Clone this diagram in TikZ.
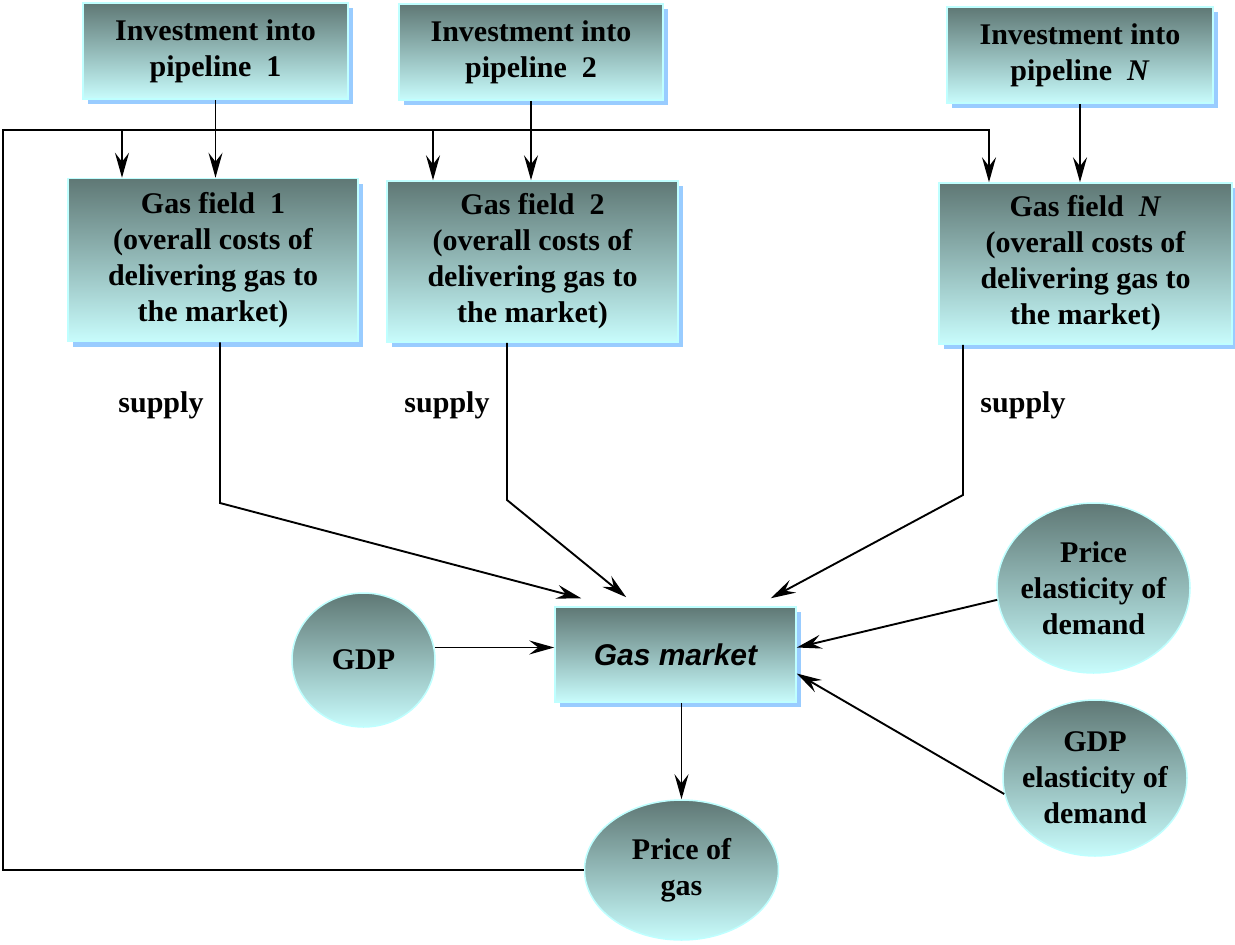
\documentclass[tikz,border=0pt]{standalone}
\usepackage{fontspec}
\setmainfont{Liberation Serif}
\setsansfont{Liberation Sans}
\usetikzlibrary{shapes.geometric,shadows,arrows.meta}
\definecolor{slate}{HTML}{5F7875}
\definecolor{pale}{HTML}{C8FCFC}
\definecolor{rim}{HTML}{BFFFFF}
\definecolor{shadowblue}{HTML}{99CCFF}

\begin{document}
\begin{tikzpicture}[x=1pt,y=-1pt,
    every node/.style={font=\fontsize{30}{36}\selectfont\bfseries, align=center},
    blk/.style={rectangle, draw=rim, line width=1.5pt, top color=slate, bottom color=pale, inner sep=0pt,
        drop shadow={shadow xshift=5pt, shadow yshift=-5pt, fill=shadowblue, opacity=1}},
    oval/.style={ellipse, draw=rim, line width=1.5pt, top color=slate, bottom color=pale, inner xsep=-10pt, inner ysep=0pt},
    arr/.style={-{Stealth[length=25pt,width=14pt,inset=9pt]}, line width=1.9pt}]
             \useasboundingbox (0,0) rectangle (1235,945);

             \node[blk, minimum width=265pt, minimum height=96pt] (inv1) at (215.5, 51) {Investment into\\pipeline\enspace 1};
             \node[blk, minimum width=264pt, minimum height=96pt] (inv2) at (531, 52) {Investment into\\pipeline\enspace 2};
             \node[blk, minimum width=266pt, minimum height=96pt] (invN) at (1080, 55) {Investment into\\pipeline\enspace \textit{N}};

             \node[blk, minimum width=290pt, minimum height=163pt] (f1) at (213, 260) {Gas field\enspace 1\\(overall costs of\\delivering gas to\\the market)};
             \node[blk, minimum width=291pt, minimum height=161pt] (f2) at (532.5, 261.5) {Gas field\enspace 2\\(overall costs of\\delivering gas to\\the market)};
             \node[blk, minimum width=293pt, minimum height=161pt] (fN) at (1085.5, 263.5) {Gas field\enspace \textit{N}\\(overall costs of\\delivering gas to\\the market)};

             \node (s1) at (161, 405) {supply};
             \node (s2) at (447, 405) {supply};
             \node (sN) at (1023, 405) {supply};

             \node[blk, minimum width=241pt, minimum height=95pt, font=\fontsize{30}{36}\selectfont\sffamily\bfseries\itshape] (mkt) at (675.5, 654.5) {Gas market};

             \node[oval, minimum width=143pt, minimum height=134pt] (gdp) at (363.5, 660) {GDP};
             \node[oval, minimum width=193pt, minimum height=170pt] (pe) at (1093.5, 588) {Price\\elasticity of\\demand};
             \node[oval, minimum width=184pt, minimum height=156pt] (ge) at (1095, 778) {GDP\\elasticity of\\demand};
             \node[oval, minimum width=194pt, minimum height=140pt] (pog) at (681.5, 870) {Price of\\gas};

             % feedback of the price
             \coordinate (fb) at (3, 130);
             \coordinate (b1) at (122, 130);
             \coordinate (b2) at (433, 130);
             \coordinate (bN) at (989, 130);
             \draw[arr] (pog.west) -| (fb) -| (bN |- fN.north);
             \draw[arr] (b1) -- (b1 |- f1.north);
             \draw[arr] (b2) -- (b2 |- f2.north);

             \draw[arr] (inv1.south) -- (inv1.south |- f1.north);
             \draw[arr] (inv2.south) -- (inv2.south |- f2.north);
             \draw[arr] (invN.south) -- (invN.south |- fN.north);

             % supply into the market
             \coordinate (k1) at (220, 503);
             \coordinate (k2) at (507, 500);
             \coordinate (kN) at (963, 495);
             \draw[arr] (k1 |- f1.south) -- (k1) -- ([shift={(27pt,8pt)}]mkt.north west);
             \draw[arr] (k2 |- f2.south) -- (k2) -- ([shift={(72pt,9pt)}]mkt.north west);
             \draw[arr] (kN |- fN.south) -- (kN) -- ([shift={(-26pt,8pt)}]mkt.north east);

             \draw[arr] (gdp.10) -- (gdp.10 -| mkt.west);
             \draw[arr] (pe.187) -- ([yshift=7pt]mkt.east);
             \draw[arr] (ge.190) -- ([yshift=-19pt]mkt.east);
             \draw[arr] (pog.north |- mkt.south) -- (pog.north);
             \end{tikzpicture}
\end{document}
